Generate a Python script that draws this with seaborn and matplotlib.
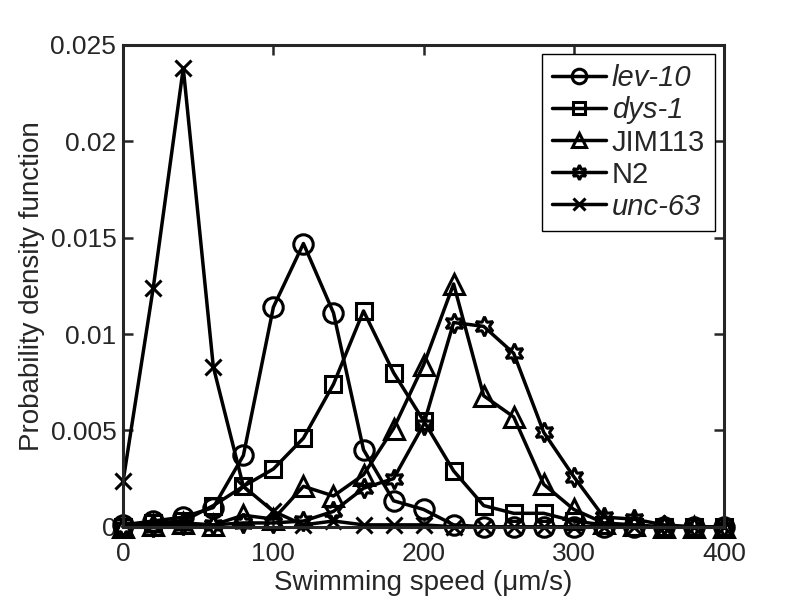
import numpy as np
import pandas as pd
import matplotlib
matplotlib.use("Agg")
import matplotlib.pyplot as plt
import seaborn as sns

speed = list(range(0, 401, 20))

lev10 = [0.0001, 0.0003, 0.0005, 0.0010, 0.0037, 0.0114, 0.0147, 0.0111, 0.0040, 0.00135,
         0.0009, 0.0001, 0.0, 0.0, 0.0, 0.0, 0.0, 0.0, 0.0, 0.0, 0.0]
dys1 = [0.0, 0.0002, 0.0003, 0.0011, 0.0021, 0.0030, 0.0046, 0.0074, 0.0112, 0.0080,
        0.0055, 0.0029, 0.0011, 0.0007, 0.0007, 0.0003, 0.0001, 0.0, 0.0, 0.0, 0.0]
jim113 = [0.0, 0.0001, 0.0002, 0.0001, 0.0006, 0.0004, 0.0021, 0.0016, 0.0027, 0.0051,
          0.0084, 0.0126, 0.0068, 0.0057, 0.0022, 0.0009, 0.0002, 0.0001, 0.0, 0.0, 0.0]
n2 = [0.0, 0.0, 0.0001, 0.0001, 0.0002, 0.0002, 0.0003, 0.0008, 0.0020, 0.0025,
      0.0053, 0.0106, 0.0104, 0.0090, 0.0049, 0.0026, 0.0005, 0.0004, 0.0001, 0.0, 0.0]
unc63 = [0.0024, 0.0124, 0.0238, 0.0083, 0.0021, 0.0008, 0.0001, 0.0003, 0.0001, 0.0001,
         0.0001, 0.0, 0.0, 0.0, 0.0, 0.0, 0.0, 0.0, 0.0, 0.0, 0.0]

names = ["lev-10", "dys-1", "JIM113", "N2", "unc-63"]
series = [lev10, dys1, jim113, n2, unc63]
markers = ["o", "s", "^", (6, 1, 0), "x"]
msizes = [14, 11.5, 14, 14, 12]
italic_names = {"lev-10", "dys-1", "unc-63"}

sns.set_style("ticks")
plt.rcParams["font.family"] = ["Liberation Sans", "DejaVu Sans"]

fig = plt.figure(figsize=(8, 6), dpi=100)
ax = fig.add_axes([0.154, 0.122, 0.751, 0.803])

for name, vals, mk, ms in zip(names, series, markers, msizes):
    df = pd.DataFrame({"speed": speed, "pdf": vals})
    sns.lineplot(data=df, x="speed", y="pdf", ax=ax, color="black", lw=2.5,
                 marker=mk, markersize=ms,
                 markerfacecolor="none", markeredgecolor="black",
                 markeredgewidth=2.2, label=name, clip_on=False)

ax.set_xlim(0, 400)
ax.set_ylim(0, 0.025)
ax.set_xticks([0, 100, 200, 300, 400])
ax.set_yticks([0, 0.005, 0.01, 0.015, 0.02, 0.025])
ax.set_yticklabels(["0", "0.005", "0.01", "0.015", "0.02", "0.025"])
ax.tick_params(direction="in", length=7, width=1.8, labelsize=19,
               top=True, right=True)
ax.tick_params(axis="x", pad=11)
ax.tick_params(axis="y", pad=5)
for s in ax.spines.values():
    s.set_linewidth(2.2)
    s.set_visible(True)
ax.set_xlabel("Swimming speed (μm/s)", fontsize=20, labelpad=3)
ax.set_ylabel("Probability density function", fontsize=20, labelpad=4)

leg = ax.legend(loc="upper right", fontsize=21, frameon=True, fancybox=False,
                edgecolor="black", framealpha=1, handlelength=1.85,
                borderpad=0.35, labelspacing=0.14, handletextpad=0.2,
                markerscale=0.75, borderaxespad=0.0,
                bbox_to_anchor=(0.985, 0.981))
leg.get_frame().set_linewidth(1.0)
for t in leg.get_texts():
    if t.get_text() in italic_names:
        t.set_fontstyle("italic")

fig.savefig("out.png", dpi=100)
